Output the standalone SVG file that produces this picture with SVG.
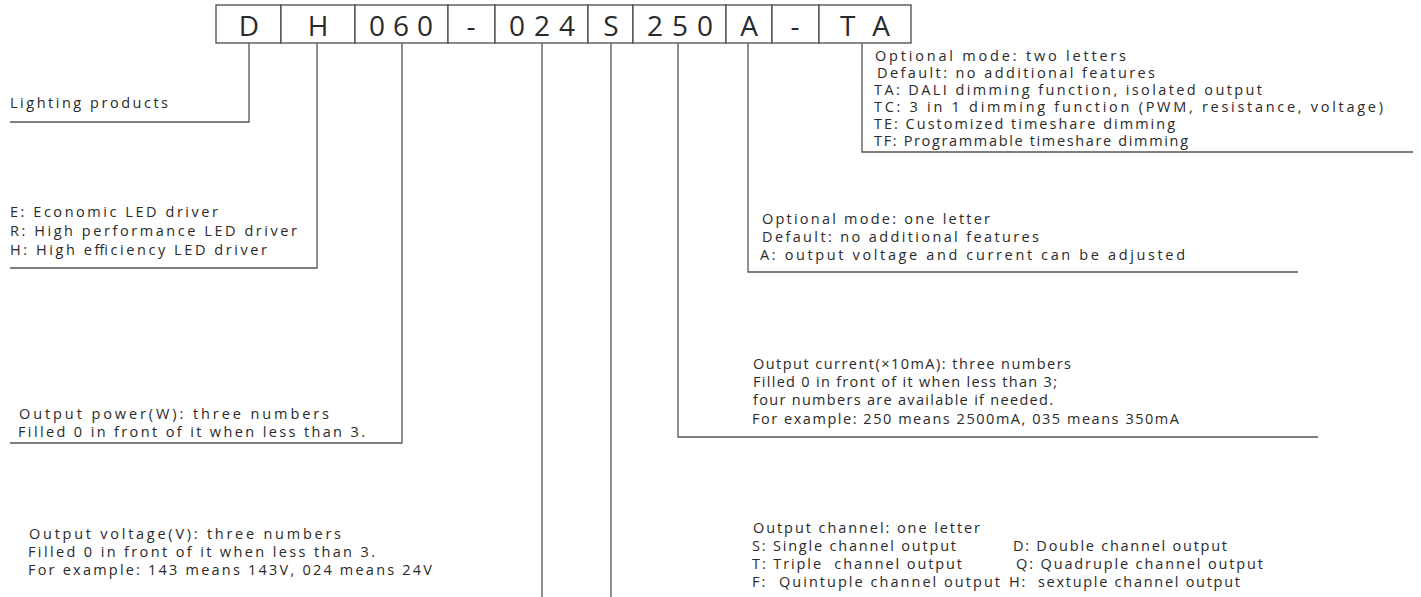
<svg xmlns="http://www.w3.org/2000/svg" width="1421" height="597" viewBox="0 0 1421 597">
<style>
.bg{fill:#ffffff}
.box{fill:#ffffff;stroke:#4a4a4a;stroke-width:1.3}
.code{font-family:"Open Sans","Liberation Sans",sans-serif;font-size:28px;fill:#2a2a2a;text-anchor:middle}
.lead{fill:none;stroke:#555555;stroke-width:1.3}
.t{font-family:"Open Sans","Liberation Sans",sans-serif;font-size:14.5px;fill:#2a2a2a}
</style>
<rect class="bg" x="0" y="0" width="1421" height="597"/>
<g id="code">
<g id="seg-D"><rect class="box" x="216" y="5" width="65" height="38"/><text class="code" x="249" y="35.5">D</text></g>
<g id="seg-H"><rect class="box" x="281" y="5" width="74" height="38"/><text class="code" x="318" y="35.5">H</text></g>
<g id="seg-060"><rect class="box" x="355" y="5" width="93" height="38"/><text class="code" x="401" y="35.5" textLength="64" lengthAdjust="spacing">060</text></g>
<g id="seg-dash1"><rect class="box" x="448" y="5" width="47" height="38"/><text class="code" x="471" y="35.5">-</text></g>
<g id="seg-024"><rect class="box" x="495" y="5" width="93" height="38"/><text class="code" x="542" y="35.5" textLength="66" lengthAdjust="spacing">024</text></g>
<g id="seg-S"><rect class="box" x="588" y="5" width="45" height="38"/><text class="code" x="611" y="35.5">S</text></g>
<g id="seg-250"><rect class="box" x="633" y="5" width="93" height="38"/><text class="code" x="680" y="35.5" textLength="66" lengthAdjust="spacing">250</text></g>
<g id="seg-A"><rect class="box" x="726" y="5" width="46" height="38"/><text class="code" x="749" y="35.5">A</text></g>
<g id="seg-dash2"><rect class="box" x="772" y="5" width="47" height="38"/><text class="code" x="795" y="35.5">-</text></g>
<g id="seg-TA"><rect class="box" x="819" y="5" width="92" height="38"/><text class="code" x="865" y="35.5" textLength="50" lengthAdjust="spacing">TA</text></g>
</g>
<g id="connectors">
<polyline class="lead" points="249,43 249,122 10,122"/>
<polyline class="lead" points="317,43 317,268 10,268"/>
<polyline class="lead" points="402,43 402,443 10,443"/>
<polyline class="lead" points="542,43 542,597"/>
<polyline class="lead" points="611,43 611,597"/>
<polyline class="lead" points="678,43 678,437 1318,437"/>
<polyline class="lead" points="748,43 748,272 1298,272"/>
<polyline class="lead" points="862,43 862,152 1413,152"/>
</g>
<g id="label-lighting">
<text class="t" x="10" y="108" textLength="158" lengthAdjust="spacing">Lighting products</text>
</g>
<g id="label-series">
<text class="t" x="10" y="217" textLength="208" lengthAdjust="spacing">E: Economic LED driver</text>
<text class="t" x="10" y="236" textLength="287" lengthAdjust="spacing">R: High performance LED driver</text>
<text class="t" x="10" y="255" textLength="257" lengthAdjust="spacing">H: High efficiency LED driver</text>
</g>
<g id="label-power">
<text class="t" x="19" y="419" textLength="310" lengthAdjust="spacing">Output power(W): three numbers</text>
<text class="t" x="18" y="437" textLength="347" lengthAdjust="spacing">Filled 0 in front of it when less than 3.</text>
</g>
<g id="label-voltage">
<text class="t" x="29" y="539" textLength="312" lengthAdjust="spacing">Output voltage(V): three numbers</text>
<text class="t" x="28" y="557" textLength="347" lengthAdjust="spacing">Filled 0 in front of it when less than 3.</text>
<text class="t" x="28" y="575" textLength="404" lengthAdjust="spacing">For example: 143 means 143V, 024 means 24V</text>
</g>
<g id="label-two-letters">
<text class="t" x="875" y="61" textLength="251" lengthAdjust="spacing">Optional mode: two letters</text>
<text class="t" x="877" y="78" textLength="278" lengthAdjust="spacing">Default: no additional features</text>
<text class="t" x="874" y="95" textLength="388" lengthAdjust="spacing">TA: DALI dimming function, isolated output</text>
<text class="t" x="874" y="112" textLength="509" lengthAdjust="spacing">TC: 3 in 1 dimming function (PWM, resistance, voltage)</text>
<text class="t" x="874" y="129" textLength="301" lengthAdjust="spacing">TE: Customized timeshare dimming</text>
<text class="t" x="874" y="146" textLength="314" lengthAdjust="spacing">TF: Programmable timeshare dimming</text>
</g>
<g id="label-one-letter">
<text class="t" x="762" y="224" textLength="228" lengthAdjust="spacing">Optional mode: one letter</text>
<text class="t" x="762" y="242" textLength="277" lengthAdjust="spacing">Default: no additional features</text>
<text class="t" x="760" y="260" textLength="425" lengthAdjust="spacing">A: output voltage and current can be adjusted</text>
</g>
<g id="label-current">
<text class="t" x="753" y="369" textLength="318" lengthAdjust="spacing">Output current(×10mA): three numbers</text>
<text class="t" x="753" y="387" textLength="304" lengthAdjust="spacing">Filled 0 in front of it when less than 3;</text>
<text class="t" x="753" y="405" textLength="300" lengthAdjust="spacing">four numbers are available if needed.</text>
<text class="t" x="752" y="424" textLength="427" lengthAdjust="spacing">For example: 250 means 2500mA, 035 means 350mA</text>
</g>
<g id="label-channel">
<text class="t" x="753" y="533" textLength="227" lengthAdjust="spacing">Output channel: one letter</text>
<text class="t" x="752" y="551" textLength="204" lengthAdjust="spacing">S: Single channel output</text>
<text class="t" x="1013" y="551" textLength="214" lengthAdjust="spacing">D: Double channel output</text>
<text class="t" x="752" y="569" textLength="210" lengthAdjust="spacing" xml:space="preserve">T: Triple  channel output</text>
<text class="t" x="1016" y="569" textLength="247" lengthAdjust="spacing">Q: Quadruple channel output</text>
<text class="t" x="752" y="587" textLength="248" lengthAdjust="spacing" xml:space="preserve">F:  Quintuple channel output</text>
<text class="t" x="1009" y="587" textLength="231" lengthAdjust="spacing" xml:space="preserve">H:  sextuple channel output</text>
</g>
</svg>
